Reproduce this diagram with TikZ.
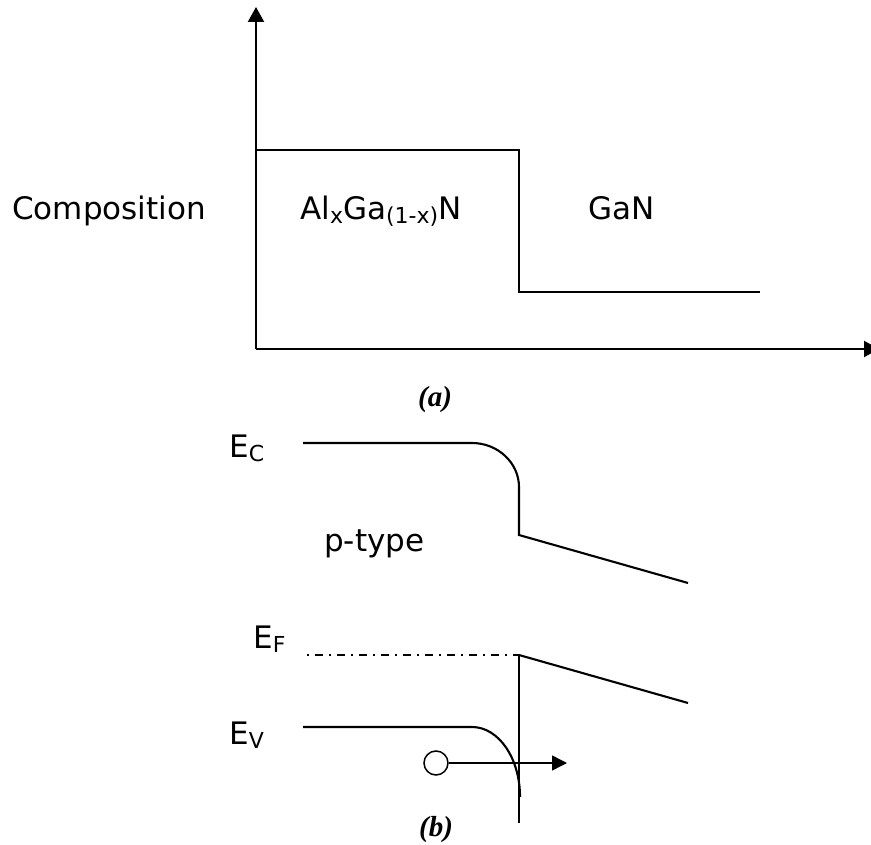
\documentclass[tikz,border=0pt]{standalone}
\usepackage{fontspec}
\setmainfont{DejaVu Sans}
\newfontfamily\capfont{Liberation Serif}
\usetikzlibrary{arrows.meta}
\newcommand{\lowsub}[1]{\raisebox{-4pt}{\fontsize{22}{22}\selectfont #1}}

\begin{document}
\begin{tikzpicture}[x=1pt, y=-1pt, every node/.style={inner sep=0pt, font=\fontsize{31}{37}\selectfont},
    level/.style={line width=2.1pt}, tag/.style={anchor=base west},
    caption/.style={font=\capfont\fontsize{29}{34}\selectfont\bfseries\itshape},
    tip/.style={-{Triangle[length=15pt,width=16pt]}}]
  \useasboundingbox (0,0) rectangle (871,845);
  \clip (0,0) rectangle (871,845);
  % (a) composition
  \coordinate (o) at (256,349);
  \coordinate (ytop) at (256,7);
  \coordinate (xend) at (879,349);
  \draw[level, tip] (o) -- (ytop);
  \draw[level, tip] (o) -- (xend);
  \coordinate (al1) at (256,150);
  \coordinate (al2) at (519,150);
  \coordinate (gan1) at (519,292);
  \coordinate (gan2) at (760,292);
  \draw[level] (al1) -- (al2) -- (gan1) -- (gan2);
  \node[tag] (comp) at (12,220) {Composition};
  \node[tag] (algan) at (300,220) {Al\lowsub{x}Ga\lowsub{(1-x)}N};
  \node[tag] (gan) at (588,220) {GaN};
  \node[caption] (capa) at (435,400) {(a)};
  % (b) band diagram
  \coordinate (ec1) at (303,443);
  \coordinate (ec2) at (472,443);
  \coordinate (ec3) at (519,487);
  \coordinate (ec4) at (519,535);
  \coordinate (ec5) at (688,583);
  \draw[level] (ec1) -- (ec2) .. controls (498,443) and (519,463) .. (ec3) -- (ec4) -- (ec5);
  \coordinate (ef1) at (307,655);
  \coordinate (ef2) at (519,655);
  \coordinate (ef3) at (688,703);
  \coordinate (jb) at (519,823);
  \draw[line width=1.8pt, dash pattern=on 2pt off 6pt on 8pt off 6pt] (ef1) -- (ef2);
  \draw[level] (ef2) -- (ef3);
  \draw[level] (ef2) -- (jb);
  \coordinate (ev1) at (303,727);
  \coordinate (ev2) at (472,727);
  \coordinate (ev3) at (520,797);
  \draw[level] (ev1) -- (ev2) .. controls (498.5,727) and (520,758) .. (ev3);
  \node[circle, draw, line width=1.5pt, minimum size=24pt] (hole) at (436,763) {};
  \coordinate (holeto) at (567,763);
  \draw[line width=1.4pt, -{Triangle[length=15pt,width=15pt]}] (hole) -- (holeto);
  \node[tag] (ec) at (229,457) {E\lowsub{C}};
  \node[tag] (ef) at (253,648) {E\lowsub{F}};
  \node[tag] (ev) at (229,744) {E\lowsub{V}};
  \node[tag] (ptype) at (324,551) {p-type};
  \node[caption] (capb) at (436,830) {(b)};
\end{tikzpicture}
\end{document}
